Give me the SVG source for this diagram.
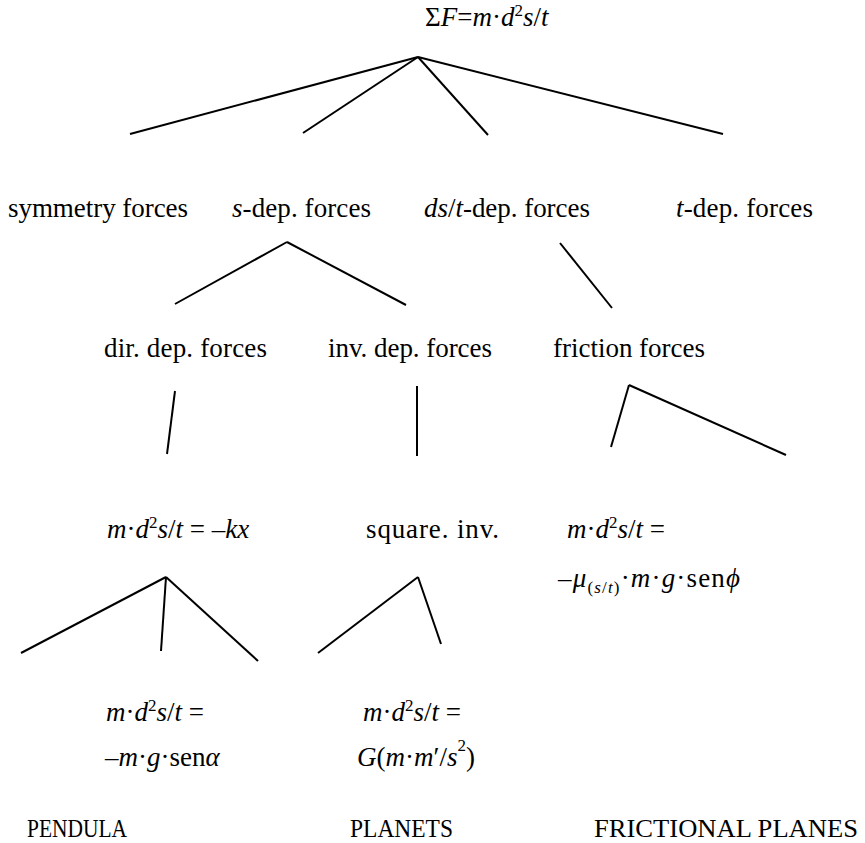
<svg xmlns="http://www.w3.org/2000/svg" width="865" height="843" viewBox="0 0 865 843">
<style>
.t{font-family:"Liberation Serif","Times New Roman",serif;font-size:27px;fill:#000}
.b{font-size:26px}
.i{font-style:italic}
.sup{font-size:17px}
.c line{stroke:#000;stroke-width:2;stroke-linecap:butt}
</style>
<rect width="865" height="843" fill="#fff"/>
<g class="c" id="connectors">
<line x1="418" y1="57" x2="130" y2="134"/>
<line x1="418" y1="57" x2="303" y2="133"/>
<line x1="418" y1="57" x2="488" y2="135"/>
<line x1="418" y1="57" x2="723" y2="134"/>
<line x1="287" y1="242" x2="175" y2="304"/>
<line x1="287" y1="242" x2="406" y2="305"/>
<line x1="560" y1="243" x2="612" y2="308"/>
<line x1="175" y1="391" x2="167" y2="454"/>
<line x1="417" y1="386" x2="417" y2="456"/>
<line x1="629" y1="385" x2="611" y2="447"/>
<line x1="629" y1="385" x2="786" y2="455"/>
<line x1="166" y1="577" x2="21" y2="653"/>
<line x1="166" y1="577" x2="161" y2="651"/>
<line x1="166" y1="577" x2="258" y2="661"/>
<line x1="418" y1="577" x2="318" y2="653"/>
<line x1="418" y1="577" x2="441" y2="644"/>
</g>
<g id="root"><text class="t" x="425" y="26">Σ<tspan class="i">F</tspan>=<tspan class="i">m</tspan>·<tspan class="i">d</tspan><tspan class="sup" dy="-10">2</tspan><tspan class="i" dy="10">s</tspan>/<tspan class="i">t</tspan></text></g>
<g id="symmetry"><text class="t" x="8" y="217" textLength="180" lengthAdjust="spacing">symmetry forces</text></g>
<g id="sdep"><text class="t" x="232" y="217" textLength="139" lengthAdjust="spacing"><tspan class="i">s</tspan>-dep. forces</text></g>
<g id="dsdep"><text class="t" x="424" y="217" textLength="166" lengthAdjust="spacing"><tspan class="i">ds</tspan>/<tspan class="i">t</tspan>-dep. forces</text></g>
<g id="tdep"><text class="t" x="676" y="217" textLength="137" lengthAdjust="spacing"><tspan class="i">t</tspan>-dep. forces</text></g>
<g id="dirdep"><text class="t" x="104" y="357" textLength="163" lengthAdjust="spacing">dir. dep. forces</text></g>
<g id="invdep"><text class="t" x="328" y="357" textLength="164" lengthAdjust="spacing">inv. dep. forces</text></g>
<g id="friction"><text class="t" x="553" y="357" textLength="152" lengthAdjust="spacing">friction forces</text></g>
<g id="hooke"><text class="t" x="107" y="538"><tspan class="i">m</tspan>·<tspan class="i">d</tspan><tspan class="sup" dy="-10">2</tspan><tspan class="i" dy="10">s</tspan>/<tspan class="i">t</tspan> = –<tspan class="i">kx</tspan></text></g>
<g id="squareinv"><text class="t" x="366" y="538" textLength="133" lengthAdjust="spacing">square. inv.</text></g>
<g id="fricteq"><text class="t" x="567" y="538"><tspan class="i">m</tspan>·<tspan class="i">d</tspan><tspan class="sup" dy="-10">2</tspan><tspan class="i" dy="10">s</tspan>/<tspan class="i">t</tspan> =</text>
<text class="t" x="558" y="587" textLength="182" lengthAdjust="spacing">–<tspan class="i">μ</tspan><tspan class="sup" dy="6">(<tspan class="i">s</tspan>/<tspan class="i">t</tspan>)</tspan><tspan dy="-6">·</tspan><tspan class="i">m</tspan>·<tspan class="i">g</tspan>·sen<tspan class="i">ϕ</tspan></text></g>
<g id="pendeq"><text class="t" x="106" y="721"><tspan class="i">m</tspan>·<tspan class="i">d</tspan><tspan class="sup" dy="-10">2</tspan><tspan class="i" dy="10">s</tspan>/<tspan class="i">t</tspan> =</text>
<text class="t" x="105" y="766">–<tspan class="i">m</tspan>·<tspan class="i">g</tspan>·sen<tspan class="i">α</tspan></text></g>
<g id="planeteq"><text class="t" x="363" y="721"><tspan class="i">m</tspan>·<tspan class="i">d</tspan><tspan class="sup" dy="-10">2</tspan><tspan class="i" dy="10">s</tspan>/<tspan class="i">t</tspan> =</text>
<text class="t" x="357" y="766"><tspan class="i">G</tspan>(<tspan class="i">m</tspan>·<tspan class="i">m</tspan>′/<tspan class="i">s</tspan><tspan class="sup" dy="-15">2</tspan><tspan dy="15">)</tspan></text></g>
<g id="pendula"><text class="t b" x="27" y="837" textLength="100" lengthAdjust="spacingAndGlyphs">PENDULA</text></g>
<g id="planets"><text class="t b" x="350" y="837" textLength="103" lengthAdjust="spacingAndGlyphs">PLANETS</text></g>
<g id="frplanes"><text class="t b" x="594" y="837" textLength="264" lengthAdjust="spacingAndGlyphs">FRICTIONAL PLANES</text></g>
</svg>
